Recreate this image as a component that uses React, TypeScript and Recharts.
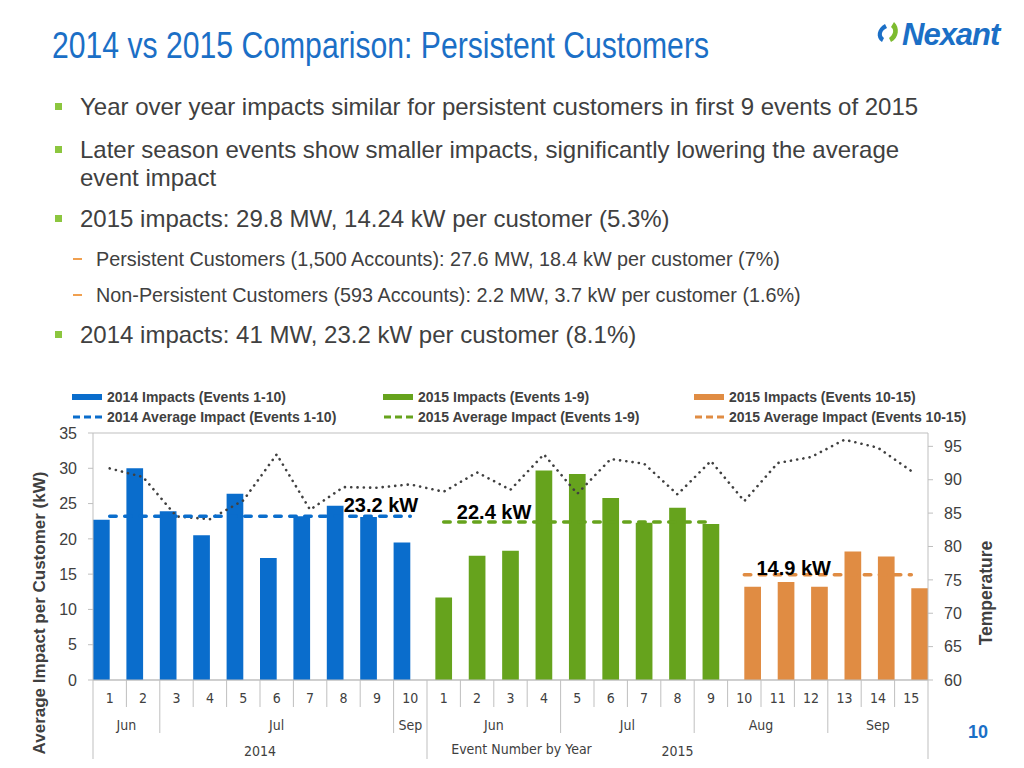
import React from 'react';
import { ComposedChart, Bar, Line, XAxis, YAxis, CartesianGrid, LabelList } from 'recharts';

// event numbers, per year
const events2014 = ['1', '2', '3', '4', '5', '6', '7', '8', '9', '10'];
const events2015 = ['1', '2', '3', '4', '5', '6', '7', '8', '9', '10', '11', '12', '13', '14', '15'];

// average impact per customer (kW)
const impacts2014 = [22.7, 30.0, 23.9, 20.5, 26.4, 17.3, 23.2, 24.7, 23.1, 19.5];
const impacts2015Early = [11.7, 17.6, 18.3, 29.7, 29.2, 25.8, 22.3, 24.4, 22.1];
const impacts2015Late = [13.2, 13.9, 13.2, 18.2, 17.5, 13.0];

// temperature for every event (2014 then 2015)
const temperatures = [
  91.7, 90.4, 84.5, 84.1, 86.9, 93.8, 85.5, 88.9, 88.8, 89.3,
  88.2, 91.1, 88.5, 93.8, 87.9, 93.1, 92.4, 87.8, 92.8, 86.8, 92.5, 93.4, 96.0, 94.8, 91.3,
];

const avg2014 = 23.2;
const avg2015Early = 22.4;
const avg2015Late = 14.9;

const months2014 = [
  { name: 'Jun', count: 2 },
  { name: 'Jul', count: 7 },
  { name: 'Sep', count: 1 },
];
const months2015 = [
  { name: 'Jun', count: 4 },
  { name: 'Jul', count: 4 },
  { name: 'Aug', count: 4 },
  { name: 'Sep', count: 3 },
];
const years = [
  { name: '2014', count: 10 },
  { name: '2015', count: 15 },
];

const impactTicks = [0, 5, 10, 15, 20, 25, 30, 35];
const tempTicks = [60, 65, 70, 75, 80, 85, 90, 95];

const BLUE = '#0a6dcc';
const GREEN = '#66a31d';
const ORANGE = '#e08c43';
const GRID = '#bfbfbf';
const TEXT = '#404040';
const SANS = "'Liberation Sans', Arial, Helvetica, sans-serif";
const NARROW = "'Liberation Sans Narrow', 'Arial Narrow', 'DejaVu Sans Condensed', 'Liberation Sans', sans-serif";

const n14 = events2014.length;
const nEarly = impacts2015Early.length;

const data = [...events2014, ...events2015].map((label, i) => {
  const j = i - n14;
  return {
    key: String(i),
    label,
    impact2014: i < n14 ? impacts2014[i] : null,
    impact2015Early: j >= 0 && j < nEarly ? impacts2015Early[j] : null,
    impact2015Late: j >= nEarly ? impacts2015Late[j - nEarly] : null,
    avg2014: i < n14 ? avg2014 : null,
    avg2015Early: j >= 0 && j < nEarly ? avg2015Early : null,
    avg2015Late: j >= nEarly ? avg2015Late : null,
    temperature: temperatures[i],
  };
});

function startsOf(groups: { name: string; count: number }[]) {
  const m = new Map<number, { name: string; count: number }>();
  let s = 0;
  groups.forEach((g) => {
    m.set(s, g);
    s += g.count;
  });
  return m;
}
const monthStarts = startsOf([...months2014, ...months2015]);
const yearStarts = startsOf(years);

// chart geometry
const CHART_W = 1024;
const CHART_H = 388;
const LEFT_AXIS_W = 40;
const RIGHT_AXIS_W = 50;
const MARGIN = { top: 53, right: 46, left: 53, bottom: 8 };
const PLOT_W = CHART_W - MARGIN.left - MARGIN.right - LEFT_AXIS_W - RIGHT_AXIS_W;
const BAND = PLOT_W / data.length;

function EventTick(props: any) {
  const { x, y, payload } = props;
  const i = props.index ?? payload.index;
  const row = data[i];
  if (!row) return null;
  const half = BAND / 2;
  const month = monthStarts.get(i);
  const year = yearStarts.get(i);
  const len = year ? 79 : month ? 53 : 27;
  const txt = { fontFamily: NARROW, fontSize: 14, fill: TEXT, textAnchor: 'middle' as const };
  return (
    <g>
      <line x1={x - half} x2={x - half} y1={y} y2={y + len} stroke={GRID} />
      {i === data.length - 1 && <line x1={x + half} x2={x + half} y1={y} y2={y + 79} stroke={GRID} />}
      <text x={x} y={y + 23} {...txt}>{row.label}</text>
      {month && <text x={x - half + month.count * half} y={y + 50} {...txt}>{month.name}</text>}
      {year && <text x={x - half + year.count * half} y={y + 76} {...txt}>{year.name}</text>}
    </g>
  );
}

const labelSpots: Record<string, { index: number; text: string; dx: number; dy: number }> = {
  avg2014: { index: 8, text: '23.2 kW', dx: 4, dy: -4 },
  avg2015Early: { index: 11, text: '22.4 kW', dx: 17, dy: -3 },
  avg2015Late: { index: 20, text: '14.9 kW', dx: 16, dy: 0 },
};

function avgLabel(key: string) {
  const spot = labelSpots[key];
  return (p: any) => {
    if (p.index !== spot.index) return null;
    return (
      <text x={p.x + spot.dx} y={p.y + spot.dy} textAnchor="middle" fontFamily={SANS} fontWeight="bold" fontSize={20} fill="#000">
        {spot.text}
      </text>
    );
  };
}

const legendItems = [
  { name: '2014 Impacts (Events 1-10)', color: BLUE, dashed: false },
  { name: '2015 Impacts (Events 1-9)', color: GREEN, dashed: false },
  { name: '2015 Impacts (Events 10-15)', color: ORANGE, dashed: false },
  { name: '2014 Average Impact (Events 1-10)', color: BLUE, dashed: true },
  { name: '2015 Average Impact (Events 1-9)', color: GREEN, dashed: true },
  { name: '2015 Average Impact (Events 10-15)', color: ORANGE, dashed: true },
];

const bullets = [
  { level: 1, lines: ['Year over year impacts similar for persistent customers in first 9 events of 2015'], top: 92 },
  { level: 1, lines: ['Later season events show smaller impacts, significantly lowering the average', 'event impact'], top: 135 },
  { level: 1, lines: ['2015 impacts: 29.8 MW, 14.24 kW per customer (5.3%)'], top: 204 },
  { level: 2, lines: ['Persistent Customers (1,500 Accounts): 27.6 MW, 18.4 kW per customer (7%)'], top: 247 },
  { level: 2, lines: ['Non-Persistent Customers (593 Accounts): 2.2 MW, 3.7 kW per customer (1.6%)'], top: 283 },
  { level: 1, lines: ['2014 impacts: 41 MW, 23.2 kW per customer (8.1%)'], top: 320 },
];

export default function App() {
  return (
    <div style={{ position: 'absolute', left: 0, top: 0, width: 1024, height: 768, background: '#fff', overflow: 'hidden', fontFamily: SANS }}>
      {/* title */}
      <svg style={{ position: 'absolute', left: 0, top: 0 }} width={1024} height={80}>
        <text x={52} y={58} fontFamily={SANS} fontSize={36} fill="#1b6fc6" textLength={657} lengthAdjust="spacingAndGlyphs">
          2014 vs 2015 Comparison: Persistent Customers
        </text>
      </svg>
      {/* logo */}
      <svg style={{ position: 'absolute', left: 872, top: 14 }} width={140} height={40}>
        <path d="M13 10 C5 14 3 24 10 28 L12 24 C8 21 10 16 15 14 Z" fill="#1b6fc6" />
        <path d="M22 8 L19 13 C23 16 21 21 17 24 L19 28 C27 24 28 13 22 8 Z" fill="#7dbb2f" />
        <text x={30} y={31} fontFamily={SANS} fontWeight="bold" fontStyle="italic" fontSize={31} fill="#1b6fc6" letterSpacing={-1}>Nexant</text>
      </svg>
      {/* bullets */}
      {bullets.map((b, bi) => (
        <div key={bi} style={{ position: 'absolute', left: b.level === 1 ? 80 : 96, top: b.top, fontSize: b.level === 1 ? 24 : 19.8, lineHeight: b.level === 1 ? '29px' : '24px', color: TEXT, whiteSpace: 'nowrap' }}>
          {b.level === 1 ? (
            <span style={{ position: 'absolute', left: -25, top: 11, width: 7, height: 7, background: '#8cc63f' }} />
          ) : (
            <span style={{ position: 'absolute', left: -23, top: 11, width: 9, height: 2, background: '#f0a050' }} />
          )}
          {b.lines.map((l, li) => (
            <div key={li} style={{ height: b.level === 1 ? 28 : 24 }}>{l}</div>
          ))}
        </div>
      ))}
      {/* legend */}
      {legendItems.map((it, i) => (
        <div key={i} style={{ position: 'absolute', left: 72 + (i % 3) * 311, top: 389 + Math.floor(i / 3) * 20, display: 'flex', alignItems: 'center', fontSize: 14, fontWeight: 'bold', color: TEXT, whiteSpace: 'nowrap' }}>
          <svg width={31} height={16} style={{ marginRight: 4 }}>
            {it.dashed ? (
              <line x1={1} x2={30} y1={8} y2={8} stroke={it.color} strokeWidth={3} strokeDasharray="7 4" />
            ) : (
              <rect x={0} y={5} width={30} height={6} fill={it.color} />
            )}
          </svg>
          {it.name}
        </div>
      ))}
      {/* axis titles */}
      <div style={{ position: 'absolute', left: 40, top: 613, transform: 'translate(-50%, -50%) rotate(-90deg)', fontSize: 17, fontWeight: 'bold', color: TEXT, whiteSpace: 'nowrap' }}>
        Average Impact per Customer (kW)
      </div>
      <div style={{ position: 'absolute', left: 986, top: 593, transform: 'translate(-50%, -50%) rotate(-90deg)', fontSize: 17.5, fontWeight: 'bold', color: TEXT, whiteSpace: 'nowrap' }}>
        Temperature
      </div>
      {/* page number */}
      <div style={{ position: 'absolute', left: 968, top: 722, fontSize: 18, fontWeight: 'bold', color: '#1b6fc6' }}>10</div>

      <div style={{ position: 'absolute', left: 0, top: 380 }}>
        <ComposedChart width={CHART_W} height={CHART_H} data={data} margin={MARGIN} barGap={-BAND / 4} barCategoryGap={0}>
          <CartesianGrid vertical={false} stroke={GRID} />
          <XAxis
            dataKey="key"
            interval={0}
            height={80}
            tickSize={0}
            tickMargin={0}
            tickLine={false}
            axisLine={{ stroke: GRID }}
            tick={<EventTick />}
            label={{ value: 'Event Number by Year', position: 'insideBottom', offset: 6, dx: 11, style: { fontFamily: NARROW, fontSize: 14, fill: TEXT } }}
          />
          <YAxis
            yAxisId="left"
            width={LEFT_AXIS_W}
            domain={[0, 35]}
            ticks={impactTicks}
            interval={0}
            axisLine={{ stroke: GRID }}
            tickLine={{ stroke: GRID }}
            tickSize={5}
            tickMargin={11}
            tick={{ fontSize: 16, fill: TEXT, fontFamily: SANS }}
          />
          <YAxis
            yAxisId="right"
            orientation="right"
            width={RIGHT_AXIS_W}
            domain={[60, 97]}
            ticks={tempTicks}
            interval={0}
            allowDataOverflow
            axisLine={{ stroke: GRID }}
            tickLine={{ stroke: GRID }}
            tickSize={5}
            tickMargin={11}
            tick={{ fontSize: 16, fill: TEXT, fontFamily: SANS }}
          />
          <Bar yAxisId="left" dataKey="impact2014" fill={BLUE} barSize={BAND / 2} isAnimationActive={false} />
          <Bar yAxisId="left" dataKey="impact2015Early" fill={GREEN} barSize={BAND / 2} isAnimationActive={false} />
          <Bar yAxisId="left" dataKey="impact2015Late" fill={ORANGE} barSize={BAND / 2} isAnimationActive={false} />
          <Line yAxisId="right" dataKey="temperature" stroke="#404040" strokeWidth={2.6} strokeDasharray="0.1 6.2" strokeLinecap="round" dot={false} isAnimationActive={false} />
          {(['avg2014', 'avg2015Early', 'avg2015Late'] as const).map((k, i) => (
            <Line
              key={k}
              yAxisId="left"
              dataKey={k}
              stroke={[BLUE, GREEN, ORANGE][i]}
              strokeWidth={3.5}
              strokeDasharray="6.5 8.5"
              strokeLinecap="round"
              dot={false}
              isAnimationActive={false}
            >
              <LabelList dataKey={k} content={avgLabel(k)} />
            </Line>
          ))}
        </ComposedChart>
      </div>
    </div>
  );
}
